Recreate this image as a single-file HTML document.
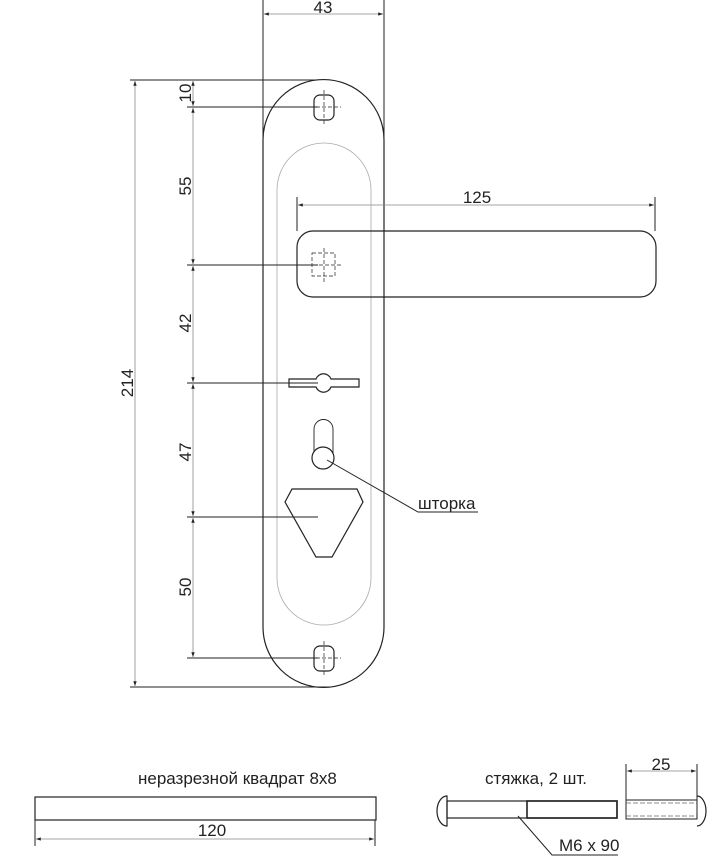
<!DOCTYPE html>
<html><head><meta charset="utf-8"><style>
html,body{margin:0;padding:0;background:#fff}
svg{display:block}
text{font-family:"Liberation Sans","DejaVu Sans",sans-serif;fill:#222}
</style></head><body>
<svg width="722" height="865" viewBox="0 0 722 865" xmlns="http://www.w3.org/2000/svg">
<defs>
<marker id="a" viewBox="0 0 10 10" refX="10" refY="5" markerWidth="6" markerHeight="6" orient="auto-start-reverse"><path d="M0,1.5 L10,5 L0,8.5z" fill="#222"/></marker>
</defs>
<g fill="none" stroke="#222" stroke-width="1.2">
<path d="M263,140 A60.5,60.5 0 0 1 384,140 L384,627 A60.5,60.5 0 0 1 263,627 Z"/>
<path d="M277,190 A47,47 0 0 1 371,190 L371,578 A47,47 0 0 1 277,578 Z" stroke="#aaa" stroke-width="0.8"/>
<line x1="263" y1="0" x2="263" y2="140" stroke-width="1"/>
<line x1="384" y1="0" x2="384" y2="140" stroke-width="1"/>
<line x1="264" y1="14" x2="383" y2="14" stroke="#888" stroke-width="0.8" marker-start="url(#a)" marker-end="url(#a)"/>
<line x1="130" y1="80" x2="318" y2="80" stroke-width="1"/>
<line x1="130" y1="687" x2="330" y2="687" stroke-width="1"/>
<line x1="135" y1="81" x2="135" y2="686" stroke="#888" stroke-width="0.8" marker-start="url(#a)" marker-end="url(#a)"/>
<g stroke="#888" stroke-width="0.8">
<line x1="193" y1="81" x2="193" y2="106" marker-start="url(#a)" marker-end="url(#a)"/>
<line x1="193" y1="108" x2="193" y2="264" marker-start="url(#a)" marker-end="url(#a)"/>
<line x1="193" y1="266" x2="193" y2="382" marker-start="url(#a)" marker-end="url(#a)"/>
<line x1="193" y1="384" x2="193" y2="516" marker-start="url(#a)" marker-end="url(#a)"/>
<line x1="193" y1="518" x2="193" y2="657" marker-start="url(#a)" marker-end="url(#a)"/>
</g>
<g stroke-width="1">
<line x1="187" y1="107" x2="318" y2="107"/>
<line x1="187" y1="265" x2="318" y2="265"/>
<line x1="187" y1="383" x2="318" y2="383"/>
<line x1="187" y1="517" x2="318" y2="517"/>
<line x1="187" y1="658" x2="318" y2="658"/>
</g>
<rect x="314" y="95" width="20" height="25" rx="6"/>
<rect x="314" y="646" width="20" height="25" rx="6"/>
<g stroke-dasharray="4,2" stroke-width="0.7">
<line x1="324" y1="90" x2="324" y2="125"/><line x1="310" y1="107" x2="341" y2="107"/>
<line x1="324" y1="641" x2="324" y2="676"/><line x1="310" y1="658" x2="341" y2="658"/>
<rect x="312" y="253" width="23" height="23"/>
<line x1="324" y1="248" x2="324" y2="282"/><line x1="307" y1="265" x2="341" y2="265"/>
</g>
<rect x="297" y="231" width="359" height="66" rx="16"/>
<line x1="297" y1="197" x2="297" y2="231" stroke-width="1"/>
<line x1="655" y1="197" x2="655" y2="231" stroke-width="1"/>
<line x1="298" y1="205" x2="654" y2="205" stroke="#888" stroke-width="0.8" marker-start="url(#a)" marker-end="url(#a)"/>
<path d="M289,379 L316,379 A8,8 0 0 1 331,379 L359,379 L359,387 L331,387 A8,8 0 0 1 316,387 L289,387 Z"/>
<path d="M314,458 L314,429 A9.5,9.5 0 0 1 333,429 L333,458" stroke-width="0.9"/>
<circle cx="323" cy="458" r="11" fill="#fff"/>
<polyline points="327,460 418,512 478,512" stroke-width="1"/>
<polygon points="285,502 292,489 357,489 363,502 332,557 316,557"/>
<rect x="35" y="797" width="341" height="23"/>
<line x1="35" y1="820" x2="35" y2="846" stroke-width="1"/>
<line x1="375" y1="820" x2="375" y2="846" stroke-width="1"/>
<line x1="36" y1="839" x2="374" y2="839" stroke="#888" stroke-width="0.8" marker-start="url(#a)" marker-end="url(#a)"/>
<path d="M447,796 A10,15 0 0 0 447,826 Z"/>
<rect x="447" y="801" width="170" height="17"/>
<rect x="527" y="801" width="90" height="17" stroke-width="1.6"/>
<polyline points="518,816 552,855 618,855" stroke-width="1"/>
<rect x="626" y="800" width="71" height="19" stroke-width="1"/>
<path d="M697,796 A9,15 0 0 1 697,826"/>
<g stroke-dasharray="5,2" stroke="#666" stroke-width="0.8">
<line x1="626" y1="803" x2="697" y2="803"/><line x1="626" y1="816" x2="697" y2="816"/>
</g>
<line x1="626" y1="764" x2="626" y2="800" stroke-width="1"/>
<line x1="697" y1="764" x2="697" y2="800" stroke-width="1"/>
<line x1="627" y1="771" x2="696" y2="771" stroke="#888" stroke-width="0.8" marker-start="url(#a)" marker-end="url(#a)"/>
</g>
<g font-size="17">
<text x="323" y="13" text-anchor="middle">43</text>
<text x="477" y="203" text-anchor="middle">125</text>
<text transform="translate(133,383) rotate(-90)" text-anchor="middle">214</text>
<text transform="translate(191,93) rotate(-90)" text-anchor="middle">10</text>
<text transform="translate(191,186) rotate(-90)" text-anchor="middle">55</text>
<text transform="translate(191,323) rotate(-90)" text-anchor="middle">42</text>
<text transform="translate(191,452) rotate(-90)" text-anchor="middle">47</text>
<text transform="translate(191,587) rotate(-90)" text-anchor="middle">50</text>
<text x="418" y="509">шторка</text>
<text x="138" y="784">неразрезной квадрат 8х8</text>
<text x="212" y="836" text-anchor="middle">120</text>
<text x="485" y="784">стяжка, 2 шт.</text>
<text x="661" y="770" text-anchor="middle">25</text>
<text x="559" y="851">M6 x 90</text>
</g>
</svg>
</body></html>
